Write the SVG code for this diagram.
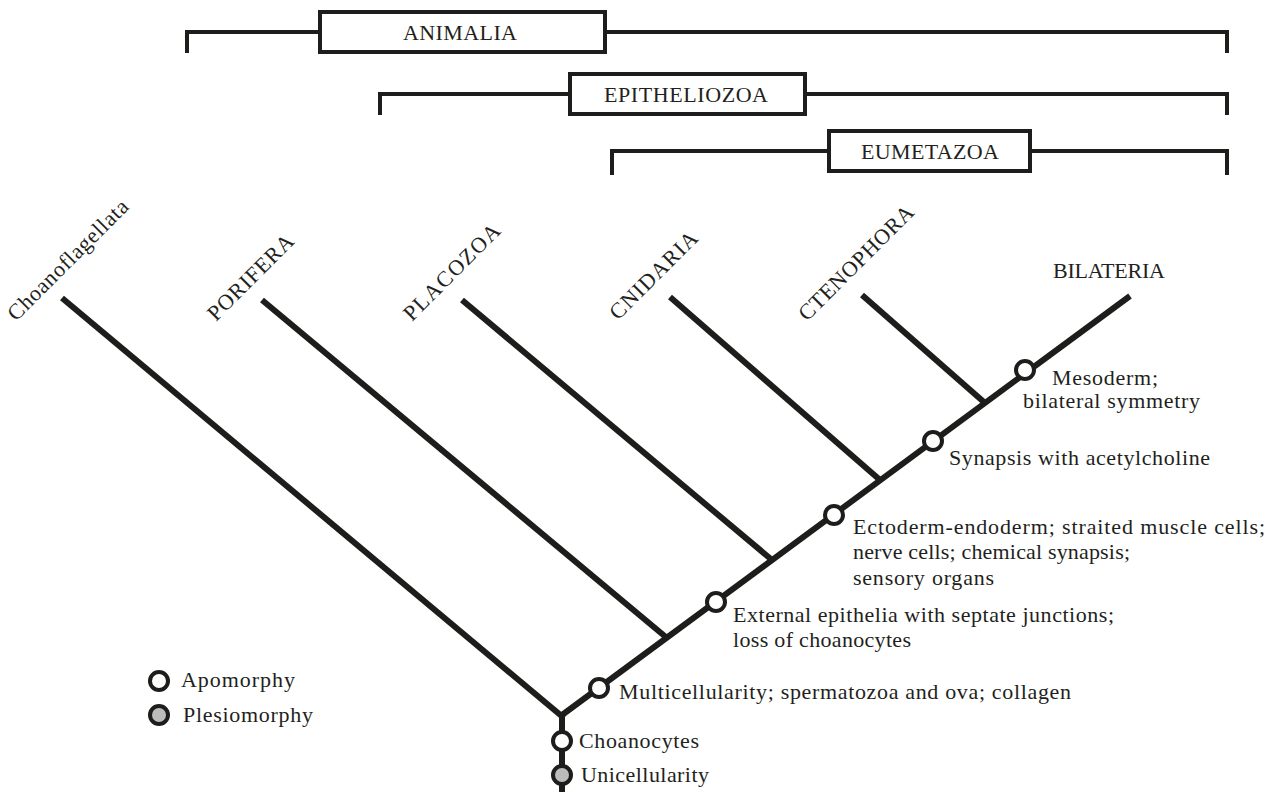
<svg xmlns="http://www.w3.org/2000/svg" width="1269" height="792" viewBox="0 0 1269 792" font-family="'Liberation Serif', 'Times New Roman', serif" font-size="22">
<style>
  .t { font-family: "Liberation Serif", "Times New Roman", serif; font-size: 22px; fill: #231f20; }
  .br { fill: none; stroke: #1d1d1b; stroke-width: 4; }
  .box { fill: #ffffff; stroke: #1d1d1b; stroke-width: 4; }
  .edge { stroke: #1d1d1b; stroke-width: 6; stroke-linecap: butt; fill: none; }
  .apo { fill: #ffffff; stroke: #1d1d1b; stroke-width: 4; }
  .ple { fill: #bcbcbc; stroke: #1d1d1b; stroke-width: 4; }
</style>
<rect width="1269" height="792" fill="#ffffff"/>

<g id="clade-brackets">
  <g id="animalia">
    <path class="br" d="M187,53 V32 H1227 V53"/>
    <rect class="box" x="320" y="12" width="285" height="40"/>
    <text class="t" x="403" y="40" textLength="114" lengthAdjust="spacing">ANIMALIA</text>
  </g>
  <g id="epitheliozoa">
    <path class="br" d="M380,115 V94 H1227 V115"/>
    <rect class="box" x="570" y="74" width="235" height="40"/>
    <text class="t" x="604" y="102" textLength="164" lengthAdjust="spacing">EPITHELIOZOA</text>
  </g>
  <g id="eumetazoa">
    <path class="br" d="M612,175 V151 H1227 V175"/>
    <rect class="box" x="829" y="131" width="201" height="40"/>
    <text class="t" x="861" y="159" textLength="138" lengthAdjust="spacing">EUMETAZOA</text>
  </g>
</g>

<g id="connectors">
  <line class="edge" x1="562" y1="792" x2="562" y2="715"/>
  <line class="edge" x1="562" y1="715" x2="1130" y2="296"/>
  <line class="edge" x1="62" y1="298" x2="564" y2="718"/>
  <line class="edge" x1="262" y1="300" x2="667" y2="638"/>
  <line class="edge" x1="462" y1="300" x2="772" y2="560"/>
  <line class="edge" x1="670" y1="297" x2="880" y2="480"/>
  <line class="edge" x1="862" y1="295" x2="985" y2="403"/>
</g>

<g id="taxon-choanoflagellata">
  <text class="t" transform="translate(16,322) rotate(-45)" textLength="161" lengthAdjust="spacing">Choanoflagellata</text>
</g>
<g id="taxon-porifera">
  <text class="t" transform="translate(216,322) rotate(-45)" textLength="112" lengthAdjust="spacing">PORIFERA</text>
</g>
<g id="taxon-placozoa">
  <text class="t" transform="translate(412,322) rotate(-45)" textLength="127" lengthAdjust="spacing">PLACOZOA</text>
</g>
<g id="taxon-cnidaria">
  <text class="t" transform="translate(618,321) rotate(-45)" textLength="115" lengthAdjust="spacing">CNIDARIA</text>
</g>
<g id="taxon-ctenophora">
  <text class="t" transform="translate(807,322) rotate(-45)" textLength="153" lengthAdjust="spacing">CTENOPHORA</text>
</g>
<g id="taxon-bilateria">
  <text class="t" x="1053" y="278" textLength="112" lengthAdjust="spacing">BILATERIA</text>
</g>

<g id="char-unicellularity">
  <circle class="ple" cx="562" cy="775" r="9"/>
  <text class="t" x="581" y="782" textLength="128" lengthAdjust="spacing">Unicellularity</text>
</g>
<g id="char-choanocytes">
  <circle class="apo" cx="562" cy="741" r="9"/>
  <text class="t" x="579" y="748" textLength="120" lengthAdjust="spacing">Choanocytes</text>
</g>
<g id="char-multicellularity">
  <circle class="apo" cx="599" cy="688" r="9"/>
  <text class="t" x="619" y="699" textLength="452" lengthAdjust="spacing">Multicellularity; spermatozoa and ova; collagen</text>
</g>
<g id="char-epithelia">
  <circle class="apo" cx="716" cy="602" r="9"/>
  <text class="t" x="733" y="622" textLength="381" lengthAdjust="spacing">External epithelia with septate junctions;</text>
  <text class="t" x="733" y="647" textLength="178" lengthAdjust="spacing">loss of choanocytes</text>
</g>
<g id="char-ectoderm">
  <circle class="apo" cx="834" cy="515" r="9"/>
  <text class="t" x="853" y="534" textLength="412" lengthAdjust="spacing">Ectoderm-endoderm; straited muscle cells;</text>
  <text class="t" x="853" y="559" textLength="277" lengthAdjust="spacing">nerve cells; chemical synapsis;</text>
  <text class="t" x="853" y="585" textLength="141" lengthAdjust="spacing">sensory organs</text>
</g>
<g id="char-synapsis">
  <circle class="apo" cx="933" cy="441" r="9"/>
  <text class="t" x="949" y="465" textLength="261" lengthAdjust="spacing">Synapsis with acetylcholine</text>
</g>
<g id="char-mesoderm">
  <circle class="apo" cx="1025" cy="370" r="9"/>
  <text class="t" x="1052" y="385" textLength="106" lengthAdjust="spacing">Mesoderm;</text>
  <text class="t" x="1023" y="408" textLength="177" lengthAdjust="spacing">bilateral symmetry</text>
</g>

<g id="legend">
  <circle class="apo" cx="159" cy="681" r="9"/>
  <text class="t" x="181" y="687" textLength="114" lengthAdjust="spacing">Apomorphy</text>
  <circle class="ple" cx="159" cy="715" r="9"/>
  <text class="t" x="183" y="722" textLength="130" lengthAdjust="spacing">Plesiomorphy</text>
</g>
</svg>
